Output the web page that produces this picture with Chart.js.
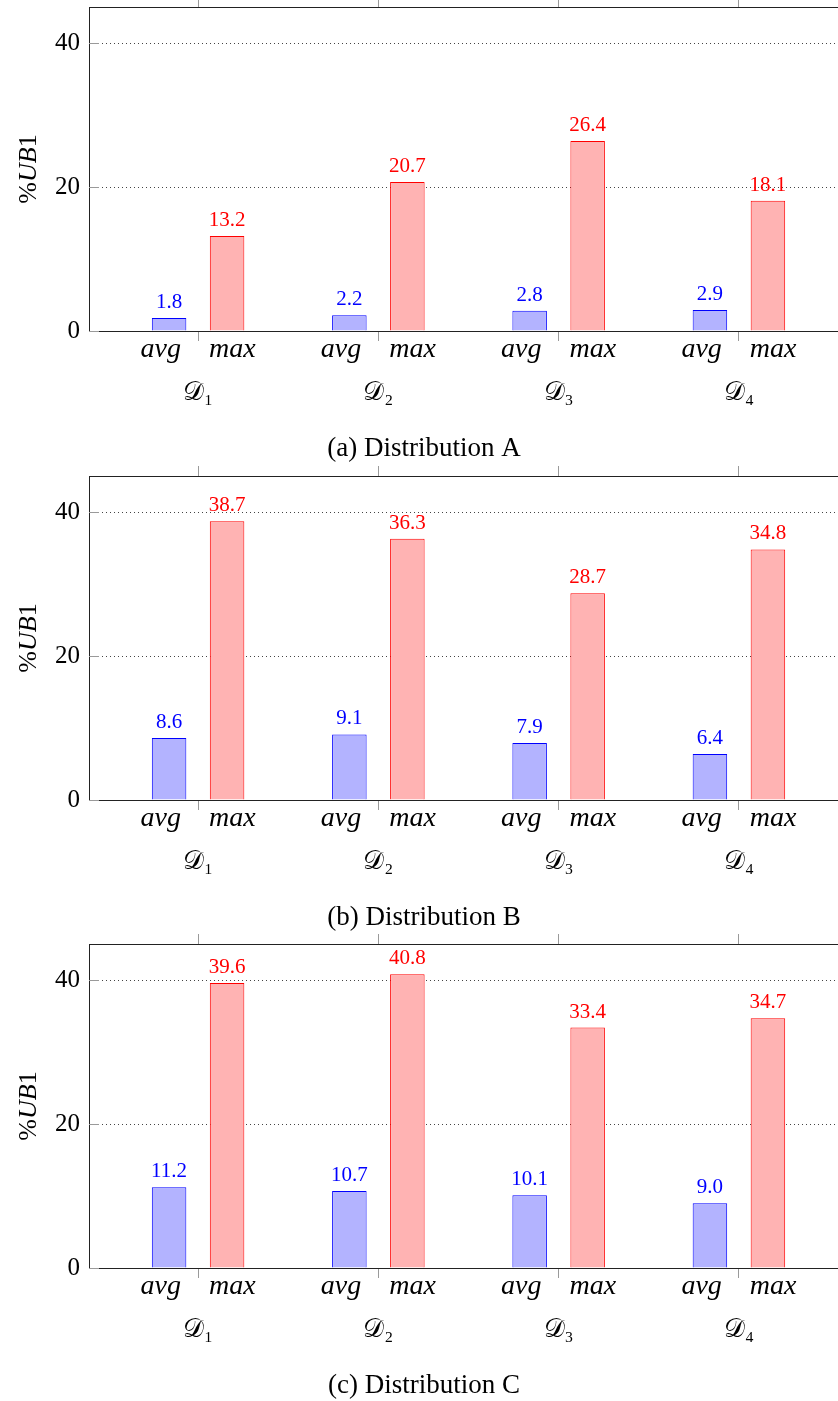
<!DOCTYPE html>
<html><head><meta charset="utf-8">
<script src="https://cdn.jsdelivr.net/npm/chart.js@4.4.1/dist/chart.umd.min.js"></script>
<style>
html,body{margin:0;padding:0;background:#fff;}
#wrap{position:relative;width:838px;height:1401px;overflow:hidden;background:#fff;}
.p{position:absolute;left:0;width:848px;height:480px;}
</style></head><body>
<div id="wrap">
<div class="p" style="top:-7px"><canvas id="cA" width="848" height="480"></canvas></div>
<div class="p" style="top:462px"><canvas id="cB" width="848" height="480"></canvas></div>
<div class="p" style="top:930px"><canvas id="cC" width="848" height="480"></canvas></div>
</div>
<script>
// ---- data ----
const categories = ['𝒟₁', '𝒟₂', '𝒟₃', '𝒟₄'];
const seriesNames = ['avg', 'max'];
const yTicks = [0, 20, 40];
const yTitle = [['%', 'normal'], ['UB', 'italic'], ['1', 'normal']];
const captions = ['(a) Distribution A', '(b) Distribution B', '(c) Distribution C'];
const avgA = [1.8, 2.2, 2.8, 2.9];
const maxA = [13.2, 20.7, 26.4, 18.1];
const avgB = [8.6, 9.1, 7.9, 6.4];
const maxB = [38.7, 36.3, 28.7, 34.8];
const avgC = [11.2, 10.7, 10.1, 9.0];
const maxC = [39.6, 40.8, 33.4, 34.7];

const SERIF = "'Liberation Serif', 'DejaVu Serif', serif";
const XMIN = 0.395, XMAX = 4.605;
const catTicks = s => { s.ticks = categories.map((c, i) => ({ value: i + 1 })); };
const noPad = s => { s.paddingTop = 0; s.paddingBottom = 0; s.paddingLeft = 0; s.paddingRight = 0; };

const decor = {
  id: 'decor',
  afterDatasetsDraw(chart) {
    const ctx = chart.ctx;
    ctx.save();
    ctx.font = '21px ' + SERIF;
    ctx.textAlign = 'center';
    ctx.textBaseline = 'alphabetic';
    chart.data.datasets.forEach((ds, di) => {
      const meta = chart.getDatasetMeta(di);
      ctx.fillStyle = ds.labelColor;
      meta.data.forEach((bar, i) => {
        ctx.fillText(ds.data[i].y.toFixed(1), bar.x, bar.y - 10);
      });
    });
    ctx.restore();
  },
  afterDraw(chart) {
    const ctx = chart.ctx;
    const ca = chart.chartArea;
    const ys = chart.scales.y;
    ctx.save();
    ctx.strokeStyle = '#9a9a9a';
    ctx.lineWidth = 1;
    yTicks.forEach(v => {
      const py = Math.round(ys.getPixelForValue(v)) + 0.5;
      ctx.beginPath(); ctx.moveTo(ca.left, py); ctx.lineTo(ca.left + 10, py); ctx.stroke();
    });
    // y title with mixed styles
    ctx.translate(36, (ca.top + ca.bottom) / 2);
    ctx.rotate(-Math.PI / 2);
    ctx.fillStyle = '#000';
    ctx.textBaseline = 'alphabetic';
    ctx.textAlign = 'left';
    let total = 0;
    const widths = yTitle.map(([t, st]) => { ctx.font = st + ' 26px ' + SERIF; const w = ctx.measureText(t).width; total += w; return w; });
    let x = -total / 2;
    yTitle.forEach(([t, st], i) => { ctx.font = st + ' 26px ' + SERIF; ctx.fillText(t, x, 0); x += widths[i]; });
    ctx.restore();
  }
};

function makeChart(id, avg, max, caption) {
  new Chart(document.getElementById(id), {
    type: 'bar',
    data: {
      datasets: [
        { label: seriesNames[0], data: avg.map((v, i) => ({ x: i + 1, y: v })), backgroundColor: '#b3b3ff', borderColor: '#0000ff', borderWidth: 1, labelColor: '#0000ff', xAxisID: 'x', yAxisID: 'y', categoryPercentage: 0.6434, barPercentage: 0.595 },
        { label: seriesNames[1], data: max.map((v, i) => ({ x: i + 1, y: v })), backgroundColor: '#ffb3b3', borderColor: '#ff0000', borderWidth: 1, labelColor: '#ff0000', xAxisID: 'x', yAxisID: 'y', categoryPercentage: 0.6434, barPercentage: 0.595 }
      ]
    },
    options: {
      responsive: false, animation: false,
      layout: { padding: 0 },
      plugins: {
        legend: { display: false }, tooltip: { enabled: false },
        title: { display: true, position: 'bottom', text: caption, color: '#000', font: { family: SERIF, size: 27, weight: 'normal', lineHeight: 1.2 }, padding: { top: 0, bottom: 8 } }
      },
      scales: {
        x: {
          type: 'linear', position: 'bottom', min: XMIN, max: XMAX, weight: 0, offset: false, bounds: 'data',
          afterBuildTicks: catTicks, afterFit: s => { s.height = 44; noPad(s); },
          grid: { offset: false, drawOnChartArea: false, drawTicks: true, tickLength: 10, color: '#9a9a9a', lineWidth: 1 },
          border: { display: true, color: '#222', width: 1 },
          ticks: { autoSkip: false, maxRotation: 0, padding: -8, color: '#000', font: { family: SERIF, style: 'italic', size: 28 }, callback: () => seriesNames.join('    ') }
        },
        x3: {
          type: 'linear', position: 'bottom', min: XMIN, max: XMAX, weight: 1, offset: false, bounds: 'data',
          afterBuildTicks: catTicks, afterFit: s => { s.height = 57.6; noPad(s); },
          grid: { offset: false, display: false, drawTicks: false },
          border: { display: false },
          ticks: { autoSkip: false, maxRotation: 0, padding: 3, color: '#000', font: { family: SERIF, size: 26 }, callback: (v, i) => categories[i] }
        },
        xt: {
          type: 'linear', position: 'top', min: XMIN, max: XMAX, offset: false, bounds: 'data',
          afterBuildTicks: catTicks, afterFit: s => { s.height = 14; noPad(s); },
          grid: { offset: false, drawOnChartArea: false, drawTicks: true, tickLength: 10, color: '#9a9a9a' },
          border: { display: true, color: '#222', width: 1 },
          ticks: { display: false }
        },
        y: {
          type: 'linear', position: 'left', min: 0, max: 45, offset: false,
          afterBuildTicks: s => { s.ticks = yTicks.map(v => ({ value: v })); },
          afterFit: s => { s.width = 89; noPad(s); },
          grid: { drawTicks: false, color: '#444', lineWidth: 1 },
          border: { display: true, color: '#222', width: 1, dash: [1, 3] },
          ticks: { padding: 9, color: '#000', font: { family: SERIF, size: 25 } }
        }
      }
    },
    plugins: [decor]
  });
}
makeChart('cA', avgA, maxA, captions[0]);
makeChart('cB', avgB, maxB, captions[1]);
makeChart('cC', avgC, maxC, captions[2]);
</script>
</body></html>
